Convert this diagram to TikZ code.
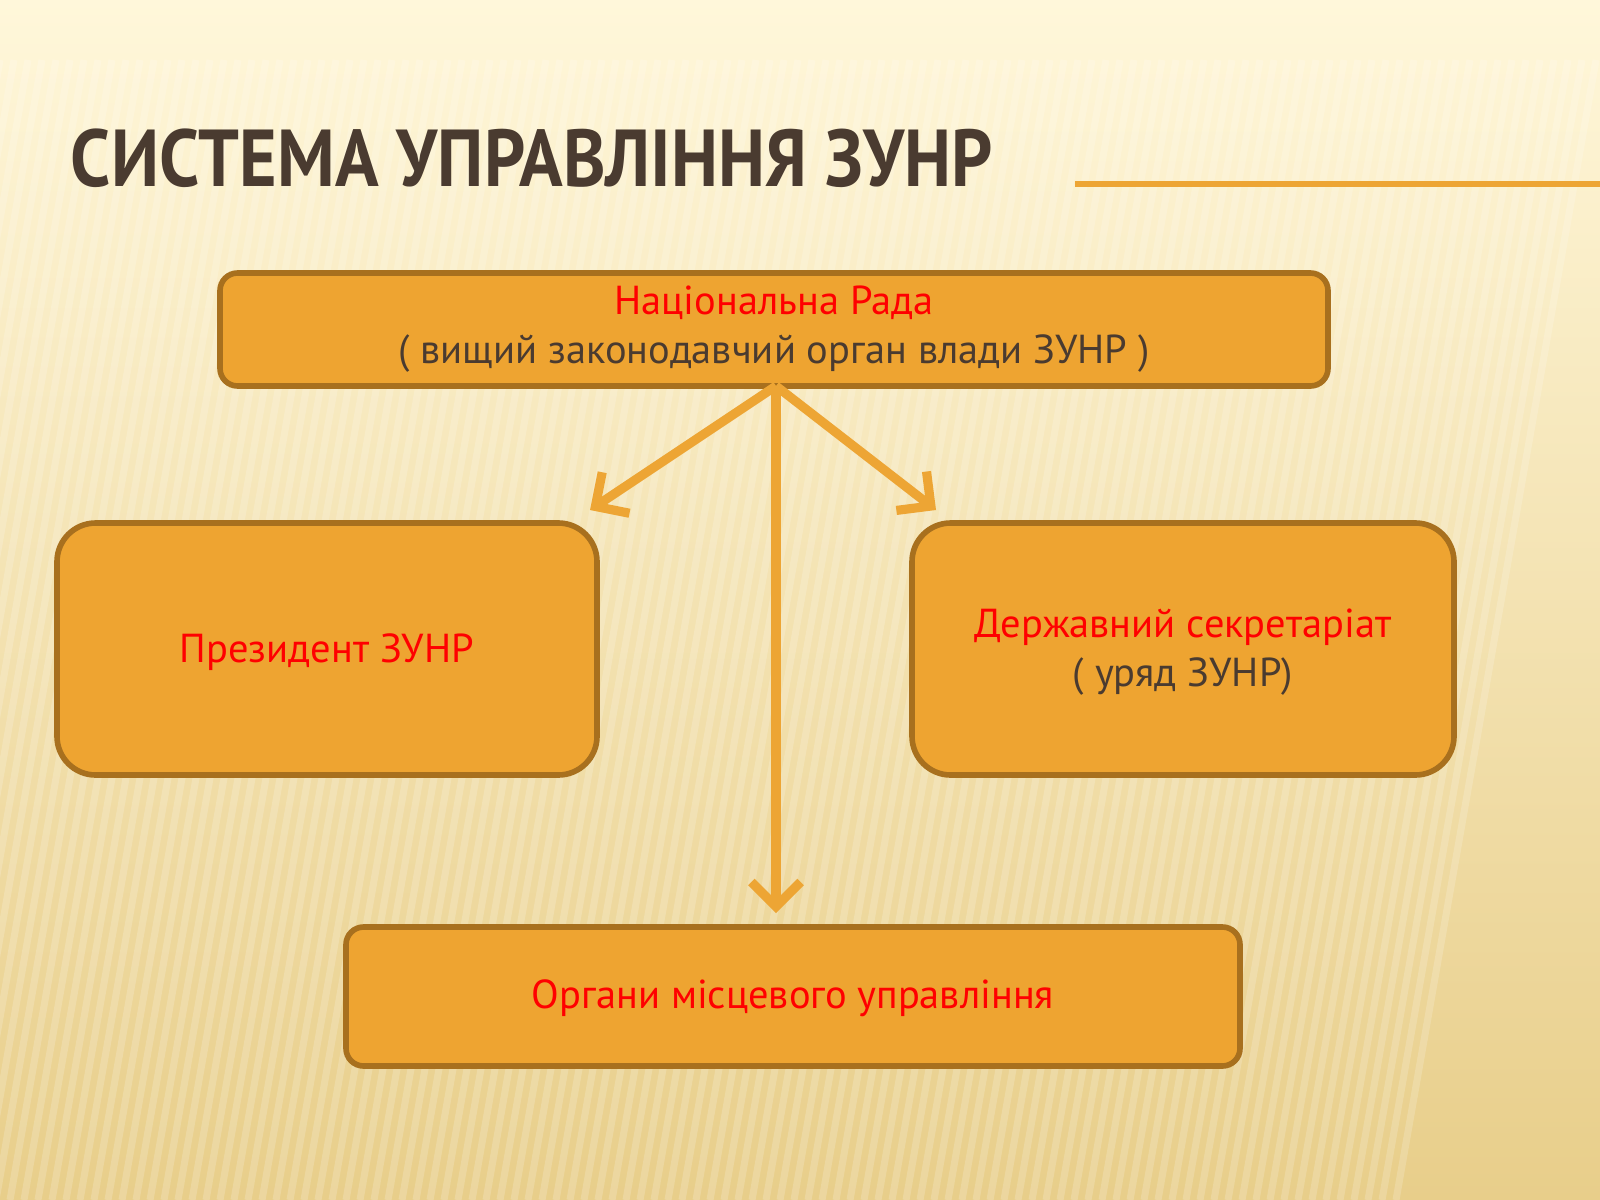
\documentclass[tikz,border=0pt]{standalone}
\usepackage{fontspec}
\setmainfont{PT Sans}
\usetikzlibrary{arrows.meta}
\definecolor{boxfill}{HTML}{EEA431}
\definecolor{boxline}{HTML}{A8701E}
\definecolor{arr}{HTML}{EDA534}
\definecolor{ttl}{HTML}{4A3B30}
\definecolor{red1}{HTML}{FF0000}
\tikzset{
  box/.style={draw=boxline, line width=1.6pt, fill=boxfill, rounded corners=#1},
  lbl/.style={align=center, font=\fontsize{11.5}{14}\selectfont},
  conn/.style={draw=arr, line width=2.6pt, -{Straight Barb[length=7pt,width=14pt]}}
}
\begin{document}
\begin{tikzpicture}[x=0.01cm,y=-0.01cm]
\useasboundingbox (0,0) rectangle (1600,1200);
\shade[top color={rgb,255:red,255;green,247;blue,218}, bottom color={rgb,255:red,232;green,206;blue,138}] (0,0) rectangle (1600,1200);
\foreach \i in {0,14,...,1600} \draw[white, opacity=0.18, line width=2pt] (\i,60) -- (\i-200,1200);
\draw[draw=arr, line width=1.5pt] (1075,184) -- (1600,184);
\node[anchor=base west, text=ttl, inner sep=0pt, font=\fontsize{20.5}{22}\selectfont\bfseries] (title) at (70,186) {\scalebox{1}[1.12]{СИСТЕМА УПРАВЛІННЯ ЗУНР}};
\draw[box=5pt] (220,273) rectangle (1328,386);
\node[lbl] (top) at (774,329) {\textcolor{red1}{Національна Рада}\\\textcolor{ttl}{( вищий законодавчий орган влади ЗУНР )}};
\draw[box=11pt] (57,523) rectangle (597,775);
\node[lbl, text=red1] (pres) at (327,652) {Президент ЗУНР};
\draw[box=11pt] (912,523) rectangle (1454,775);
\node[lbl] (sec) at (1183,652) {\textcolor{red1}{Державний секретаріат}\\\textcolor{ttl}{( уряд ЗУНР)}};
\draw[box=5pt] (346,927) rectangle (1240,1066);
\node[lbl, text=red1] (loc) at (793,998) {Органи місцевого управління};
\coordinate (src) at (776,386);
\coordinate (e1) at (590,510);
\coordinate (e2) at (936,510);
\coordinate (e3) at (776,913);
\draw[conn] (src) -- (e1);
\draw[conn] (src) -- (e2);
\draw[conn] (src) -- (e3);
\end{tikzpicture}
\end{document}
